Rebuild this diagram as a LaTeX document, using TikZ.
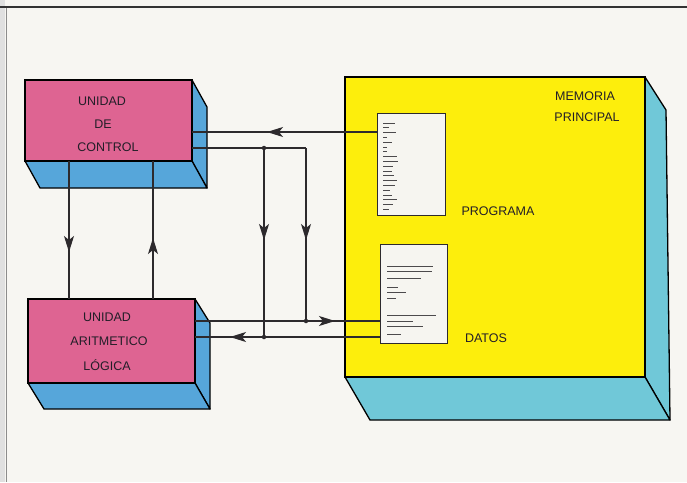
\documentclass[tikz,border=0pt]{standalone}
\usepackage{fontspec}
\setmainfont{Liberation Sans}
\usetikzlibrary{arrows.meta,decorations.markings}
\definecolor{bg}{RGB}{247,246,242}
\definecolor{pinkf}{RGB}{222,100,146}
\definecolor{bluef}{RGB}{86,166,218}
\definecolor{cyanf}{RGB}{112,200,216}
\definecolor{yellowf}{RGB}{253,238,12}
\definecolor{docf}{RGB}{246,245,240}
\definecolor{linecol}{RGB}{45,42,45}
\definecolor{txt}{RGB}{35,30,40}
\begin{document}
\begin{tikzpicture}[x=1pt,y=-1pt,
  face/.style={draw=black,line width=1.3pt,line join=round},
  front/.style={draw=black,line width=1.3pt,inner sep=0pt,outer sep=0pt,anchor=north west},
  doc/.style={draw=linecol,line width=1pt,fill=docf,inner sep=0pt,outer sep=0pt,anchor=north west},
  conn/.style={draw=linecol,line width=1.2pt},
  midarrow/.style={postaction={decorate},decoration={markings,mark=at position #1 with {\arrow{Stealth[length=16pt,width=10pt,inset=4pt]}}}},
  lbl/.style={font=\fontsize{12.5}{14}\selectfont,text=txt,inner sep=0pt},
  jdot/.style={circle,fill=linecol,inner sep=0pt,minimum size=4.5pt},
  txtline/.style={draw=linecol!85,line width=0.9pt}]
\useasboundingbox (0,0) rectangle (687,482);
\fill[bg] (0,0) rectangle (687,482);
% frame
\fill[black!12] (0,0) rectangle (5,482);
\draw[black!45,line width=0.8pt] (6,7) -- (6,482);
\draw[black!80,line width=1.2pt] (0,7) -- (687,7);

% side faces
\filldraw[face,fill=bluef] (192,80) -- (207,107) -- (207,188) -- (192,161) -- cycle;
\filldraw[face,fill=bluef] (25,161) -- (192,161) -- (207,188) -- (40,188) -- cycle;
\filldraw[face,fill=bluef] (195,299) -- (210,323) -- (210,409) -- (195,383) -- cycle;
\filldraw[face,fill=bluef] (28,383) -- (195,383) -- (210,409) -- (44,409) -- cycle;
\filldraw[face,fill=cyanf] (645,77) -- (666,110) -- (670,420) -- (645,377) -- cycle;
\filldraw[face,fill=cyanf] (345,377) -- (645,377) -- (670,420) -- (370,420) -- cycle;

% front faces
\node[front,fill=pinkf,minimum width=167pt,minimum height=81pt] (cu) at (25,80) {};
\node[front,fill=pinkf,minimum width=167pt,minimum height=84pt] (alu) at (28,299) {};
\node[front,fill=yellowf,minimum width=300pt,minimum height=300pt] (mem) at (345,77) {};

% documents
\node[doc,minimum width=68pt,minimum height=102pt] (prog) at (377,113) {};
\node[doc,minimum width=67pt,minimum height=99pt] (dat) at (380,244) {};
\foreach \i/\l in {0/12,1/6,2/13,3/4,4/9,5/4,6/4,7/14,8/15,9/10,10/9,11/11,12/14,13/12,14/7,15/9,16/14,17/10,18/6}
  \draw[txtline] (383,123+4.8*\i) -- ++(\l,0);
\foreach \y/\e in {266/433,271/432,278/421,287/398,292/406,298/396,315/436,321/413,326/423,334/401}
  \draw[txtline] (387,\y) -- (\e,\y);

% labels
\node[lbl] (t1) at (102,101) {UNIDAD};
\node[lbl] (t2) at (103,124) {DE};
\node[lbl] (t3) at (108,147) {CONTROL};
\node[lbl] (t4) at (107,317) {UNIDAD};
\node[lbl] (t5) at (109,341) {ARITMETICO};
\node[lbl] (t6) at (107,365) {LÓGICA};
\node[lbl] (t7) at (585,96) {MEMORIA};
\node[lbl] (t8) at (587,117) {PRINCIPAL};
\node[lbl] (t9) at (498,211) {PROGRAMA};
\node[lbl] (t10) at (486,338) {DATOS};

% connector coordinates
\coordinate (ya) at (0,132);
\coordinate (j1) at (264,148);
\coordinate (j2) at (306,148);
\coordinate (j3) at (264,337);
\coordinate (j4) at (306,321);
\coordinate (v1) at (69,0);
\coordinate (v2) at (153,0);

% connectors
\draw[conn,midarrow=110pt] (prog.west |- ya) -- (cu.east |- ya);
\draw[conn] (cu.east |- j1) -- (j1) -- (j2);
\draw[conn,midarrow=92pt] (j2) -- (j4);
\draw[conn,midarrow=92pt] (j1) -- (j3);
\draw[conn,midarrow=140pt] (alu.east |- j4) -- (dat.west |- j4);
\draw[conn,midarrow=150pt] (dat.west |- j3) -- (alu.east |- j3);
\draw[conn,midarrow=91pt] (cu.south -| v1) -- (alu.north -| v1);
\draw[conn,midarrow=61pt] (alu.north -| v2) -- (cu.south -| v2);
\node[jdot] (d1) at (j1) {};
\node[jdot] (d3) at (j3) {};
\node[jdot] (d4) at (j4) {};
\end{tikzpicture}
\end{document}
